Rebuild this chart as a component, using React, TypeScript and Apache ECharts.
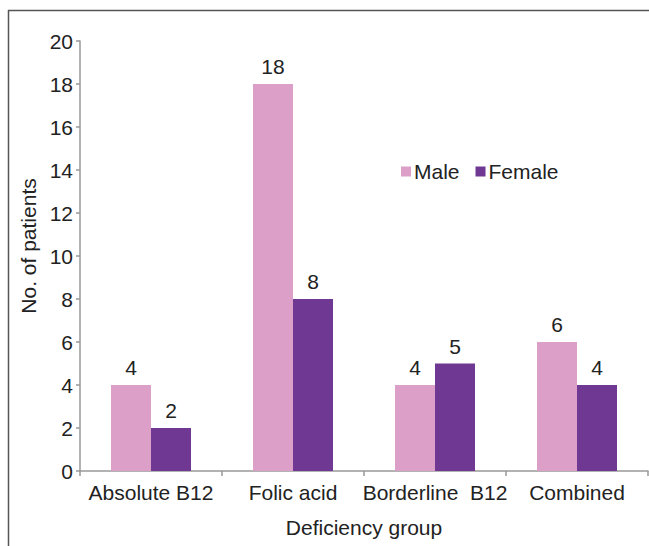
import React, { useEffect, useRef } from "react";
import * as echarts from "echarts";

const categories = ["Absolute B12", "Folic acid", "Borderline  B12", "Combined"];
const maleValues = [4, 18, 4, 6];
const femaleValues = [2, 8, 5, 4];
const seriesNames = ["Male", "Female"];

const FONT = "Liberation Sans, Arial, sans-serif";
const FS = 21;

export default function App() {
  const ref = useRef<HTMLDivElement>(null);
  useEffect(() => {
    if (!ref.current) return;
    const chart = echarts.init(ref.current, undefined, { renderer: "svg" });
    const labelStyle = { show: true, position: "top", fontSize: FS, color: "#222", fontFamily: FONT, distance: 7 };
    chart.setOption({
      animation: false,
      backgroundColor: "#fff",
      textStyle: { fontFamily: FONT },
      graphic: [
        { type: "line", shape: { x1: 8.5, y1: 10, x2: 8.5, y2: 546 }, style: { stroke: "#555", lineWidth: 1.5 } },
        { type: "line", shape: { x1: 8, y1: 10.5, x2: 649, y2: 10.5 }, style: { stroke: "#555", lineWidth: 1.5 } },
      ],
      legend: {
        left: 396,
        top: 156,
        itemWidth: 10,
        itemHeight: 10,
        itemGap: 16,
        icon: "rect",
        textStyle: { fontSize: FS, color: "#222", fontFamily: FONT, padding: [0, 0, 0, -2] },
        data: seriesNames,
      },
      grid: { left: 80, top: 41, right: 1, bottom: 75 },
      xAxis: {
        type: "category",
        data: categories,
        name: "Deficiency group",
        nameLocation: "middle",
        nameGap: 46,
        nameTextStyle: { fontSize: FS, color: "#222", fontFamily: FONT },
        axisLine: { lineStyle: { color: "#999", width: 1.5 } },
        axisTick: { show: true, length: 5, lineStyle: { color: "#999", width: 1.5 } },
        axisLabel: { fontSize: FS, color: "#222", fontFamily: FONT, margin: 11, interval: 0 },
      },
      yAxis: {
        type: "value",
        min: 0,
        max: 20,
        interval: 2,
        name: "No. of patients",
        nameLocation: "middle",
        nameGap: 40,
        nameTextStyle: { fontSize: FS, color: "#222", fontFamily: FONT, padding: [0, 0, 0, 20] },
        axisLine: { show: true, lineStyle: { color: "#999", width: 1.5 } },
        axisTick: { show: true, length: 4, lineStyle: { color: "#999", width: 1.5 } },
        axisLabel: { fontSize: FS, color: "#222", fontFamily: FONT, margin: 7 },
        splitLine: { show: false },
      },
      series: [
        {
          name: seriesNames[0],
          type: "bar",
          data: maleValues,
          barWidth: 40,
          barGap: "0%",
          itemStyle: { color: "#DB9FC8" },
          label: labelStyle,
        },
        {
          name: seriesNames[1],
          type: "bar",
          data: femaleValues,
          barWidth: 40,
          barGap: "0%",
          itemStyle: { color: "#6E3893" },
          label: labelStyle,
        },
      ],
    });
    return () => chart.dispose();
  }, []);
  return (
    <div
      ref={ref}
      style={{ position: "fixed", left: 0, top: 0, width: 649, height: 546 }}
    />
  );
}
